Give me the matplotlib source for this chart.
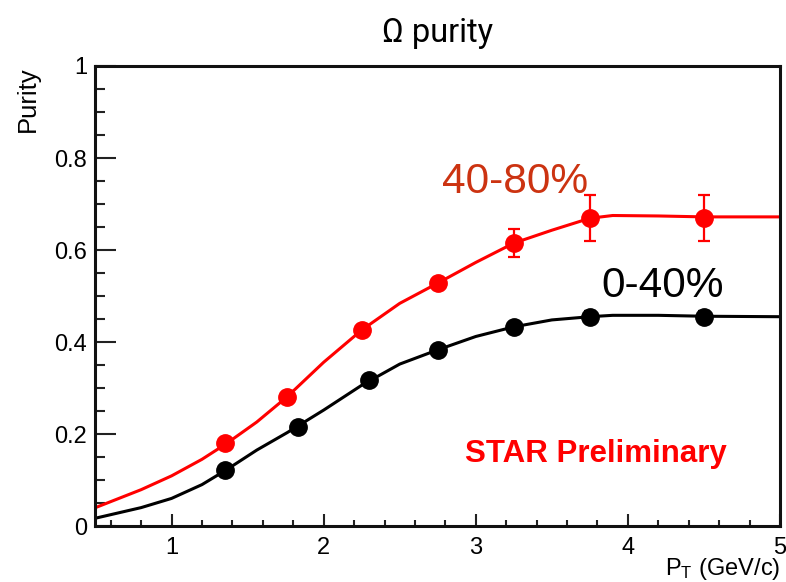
import matplotlib
matplotlib.use("Agg")
import matplotlib.pyplot as plt
from matplotlib.ticker import MultipleLocator, FormatStrFormatter

# Measured purity points (pT in GeV/c)
pt_central = [1.35, 1.83, 2.30, 2.75, 3.25, 3.75, 4.50]
pt_periph = [1.35, 1.76, 2.25, 2.75, 3.25, 3.75, 4.50]
purity_central = [0.122, 0.216, 0.317, 0.383, 0.433, 0.455, 0.455]
err_central = [0.008, 0.008, 0.008, 0.008, 0.01, 0.012, 0.012]
purity_periph = [0.180, 0.281, 0.426, 0.528, 0.615, 0.669, 0.669]
err_periph = [0.01, 0.01, 0.012, 0.012, 0.03, 0.05, 0.05]

# Fit curves
fit_pt = [0.5, 0.8, 1.0, 1.2, 1.36, 1.56, 1.76, 2.0, 2.25, 2.5, 2.75, 3.0,
          3.25, 3.5, 3.75, 3.9, 4.2, 4.5, 5.0]
fit_central = [0.017, 0.040, 0.060, 0.090, 0.122, 0.165, 0.203, 0.252, 0.306,
               0.352, 0.383, 0.412, 0.433, 0.448, 0.455, 0.458, 0.458, 0.456, 0.455]
fit_periph = [0.040, 0.079, 0.109, 0.145, 0.179, 0.226, 0.281, 0.356, 0.426,
              0.484, 0.528, 0.573, 0.615, 0.643, 0.669, 0.675, 0.674, 0.672, 0.672]

plt.rcParams['font.family'] = ['Liberation Sans', 'DejaVu Sans']
plt.rcParams['mathtext.fontset'] = 'custom'
plt.rcParams['mathtext.rm'] = 'Liberation Sans'
plt.rcParams['mathtext.it'] = 'Liberation Sans:italic'

fig = plt.figure(figsize=(7.86, 5.82), dpi=100)
ax = fig.add_axes([0.1215, 0.0962, 0.8709, 0.7904])

black = '#000000'
red = '#ff0000'

ax.plot(fit_pt, fit_periph, color=red, lw=2.2, zorder=2)
ax.plot(fit_pt, fit_central, color=black, lw=2.2, zorder=2)

ax.errorbar(pt_periph, purity_periph, yerr=err_periph, fmt='o', color=red,
            ms=12.5, elinewidth=1.6, capsize=4, capthick=1.6, zorder=3)
ax.errorbar(pt_central, purity_central, yerr=err_central, fmt='o', color=black,
            ms=12.5, elinewidth=1.6, capsize=4, capthick=1.6, zorder=3)

ax.set_xlim(0.5, 5.0)
ax.set_ylim(0.0, 1.0)

ax.xaxis.set_major_locator(MultipleLocator(1))
ax.xaxis.set_minor_locator(MultipleLocator(0.2))
ax.yaxis.set_major_locator(MultipleLocator(0.2))
ax.yaxis.set_minor_locator(MultipleLocator(0.05))
ax.yaxis.set_major_formatter(FormatStrFormatter('%g'))
ax.xaxis.set_major_formatter(FormatStrFormatter('%g'))

ax.tick_params(axis='both', which='both', direction='in', top=False, right=False,
               labelsize=17, width=1.5, color='#222222')
ax.tick_params(axis='x', which='major', length=9, pad=8)
ax.tick_params(axis='x', which='minor', length=4)
ax.tick_params(axis='y', which='major', length=15, pad=6)
ax.tick_params(axis='y', which='minor', length=7.5)

for sp in ax.spines.values():
    sp.set_linewidth(2.2)
    sp.set_color('#111111')

ax.text(-0.099, 1.0, 'Purity', transform=ax.transAxes, rotation=90,
        ha='center', va='top', fontsize=18.5)
ax.text(1.0, -0.094, r'P$_{\mathrm{T}}$ (GeV/c)', transform=ax.transAxes,
        ha='right', va='center', fontsize=17)

fig.text(0.556, 0.943, 'Ω purity', ha='center', va='center', fontsize=23.5,
         family=['Roboto', 'DejaVu Sans'])

ax.text(3.257, 0.748, '40-80%', ha='center', va='center', fontsize=30.5,
        color='#cc3311')
ax.text(4.228, 0.522, '0-40%', ha='center', va='center', fontsize=30.5,
        color=black)
ax.text(3.79, 0.157, 'STAR Preliminary', ha='center', va='center', fontsize=22.5,
        fontweight='bold', color=red)

fig.savefig('out.png', dpi=100)
